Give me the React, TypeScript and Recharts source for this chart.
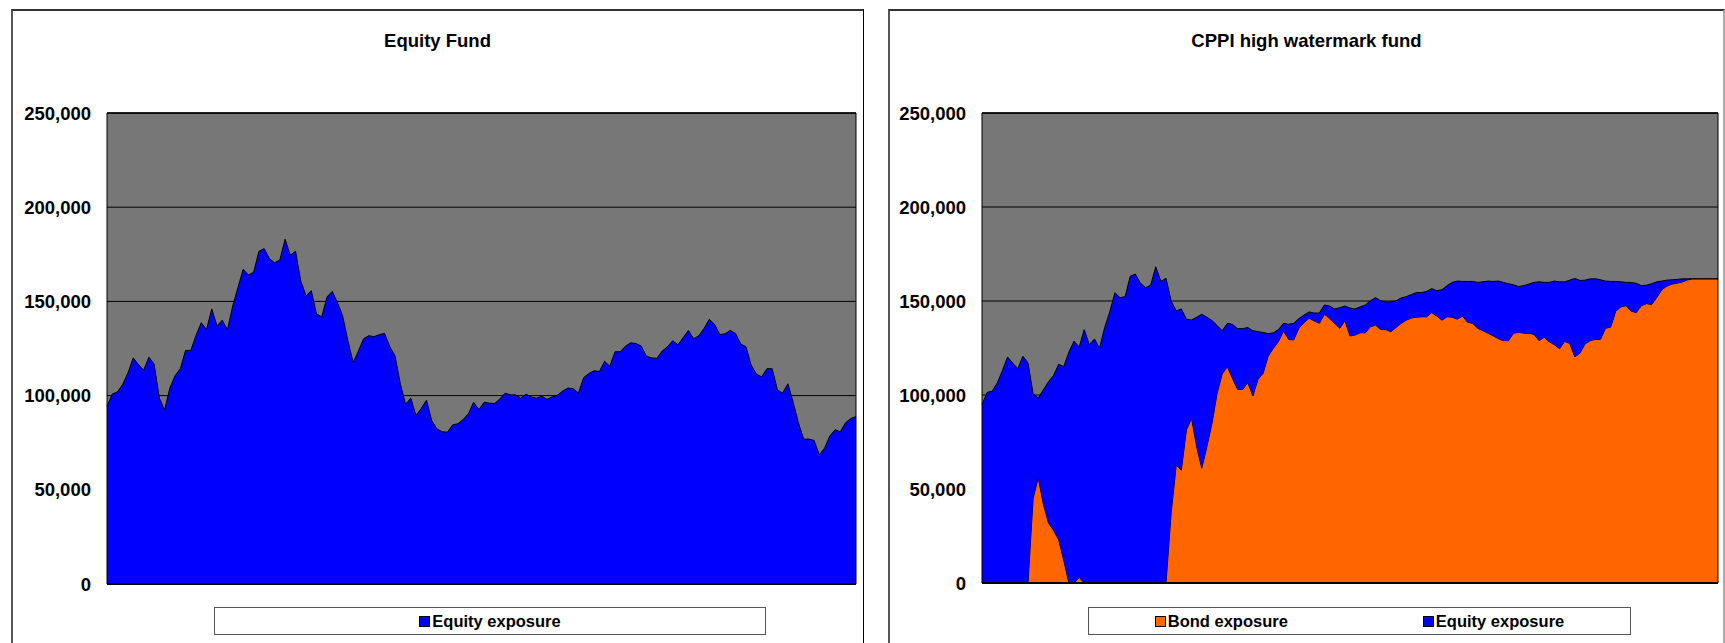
import { AreaChart, Area, XAxis, YAxis, CartesianGrid, ReferenceLine } from "recharts"

// values in thousands (one point per period)
const equityFundValue = [
  94.3, 100.8, 102, 106, 112, 120, 116.5, 113.5, 120.4, 116.7, 98.6, 92.5, 104, 110.6, 114.3, 124,
  124, 132, 138.7, 135, 146, 137, 140, 135, 147.6, 157.4, 167, 164, 165.5, 176.6, 178, 172.7, 170.5,
  172, 183, 174.6, 176.6, 160.7, 153, 155.7, 143.3, 141.8, 152.4, 155.3, 149.4, 142.2, 129, 117.6,
  123.7, 130.2, 131.8, 131.3, 132.4, 133, 125.9, 121, 106.3, 95.4, 98.6, 89.5, 93.2, 97.6, 86.7, 82.3,
  80.8, 80.6, 84.5, 85.1, 87.3, 90.4, 96.5, 92.5, 96.5, 96, 95.8, 98.2, 101.3, 100.4, 100.4, 98.6,
  100.8, 99.3, 98.6, 99.7, 98, 99.3, 100.2, 102.4, 104, 103.7, 101.3, 109.5, 111.7, 113.2, 112.8,
  118.2, 115.6, 123.3, 123.3, 126.3, 128, 127.6, 126.3, 120.9, 120, 119.8, 123.7, 125.9, 129.1, 127,
  130.7, 134.6, 130.2, 131.8, 135.7, 140.5, 137.8, 132.4, 132.8, 134.6, 133, 127.4, 125.9, 116.1,
  111.3, 110, 114.3, 114.3, 103, 101.3, 106.3, 96.5, 85.6, 76.9, 76.9, 76.2, 68.6, 72.1, 78.6, 81.9,
  80.8, 85.6, 87.8, 88.9,
]

// CPPI fund: total value and the part held in bonds
const cppiFundValue = [
  94.9, 101.4, 102, 106.5, 113, 120.2, 117, 114, 120.6, 117,
  100.6, 98.4, 102.7, 107.1, 110.4, 116.3, 115.2, 122.8, 128.7, 125.4,
  134.8, 126.7, 129.8, 125, 135.9, 144.2, 154.4, 151.8, 152.3, 163.2,
  164.3, 159.5, 157.1, 158.4, 168.2, 160.4, 162.1, 150.1, 144.7, 145.8,
  140.3, 139.9, 141.4, 142.9, 141.4, 139.6, 137, 134.2, 138.1, 137.6,
  135.3, 135.3, 135.9, 134.2, 133.7, 133.3, 132.6, 133.1, 134.8, 138.1,
  137.6, 138.1, 140.7, 142.5, 144.2, 143.6, 143.6, 147.9, 147.3, 145.8,
  146.4, 147.3, 146.2, 145.8, 146.9, 147.9, 150.1, 151.8, 150.1, 149.5,
  149.5, 150.1, 151.6, 152.3, 153.4, 154.5, 154.5, 155.1, 156.6, 155.5,
  156, 158.2, 159.9, 160.6, 160.4, 160.4, 160.4, 159.9, 160.2, 160.6,
  160.4, 160.6, 159.9, 159.2, 158.6, 157.7, 158.2, 159, 159.9, 160.2,
  159.9, 159.9, 160.6, 160.2, 160.2, 161.1, 162, 160.9, 161.1, 161.8,
  161.8, 161.3, 160.6, 160.4, 160.4, 160.2, 159.9, 159.9, 159.4, 158.2,
  158.4, 159.2, 160.2, 160.6, 161.1, 161.3, 161.5, 161.8, 161.8, 161.8,
  161.8, 161.8, 161.8, 161.8, 161.8,
]

const cppiBondExposure = [
  0, 0, 0, 0, 0, 0, 0, 0, 0, 0,
  45, 56, 42, 32, 28, 23, 12, 0, 0, 3,
  0, 0, 0, 0, 0, 0, 0, 0, 0, 0,
  0, 0, 0, 0, 0, 0, 0, 37, 62.8, 60.1,
  81.4, 87.6, 72.5, 61, 72.5, 85, 100.9, 111.2, 115, 108.9,
  103, 103, 106.5, 99.5, 108.3, 111.5, 120.7, 124.8, 128.4, 134,
  129.6, 129.3, 135.5, 138.5, 140.8, 139.4, 138.1, 142.9, 140.8, 138.1,
  135.5, 139.5, 131.4, 131.9, 133.1, 133.1, 136.3, 137.2, 134.8, 134.8,
  133.7, 135.9, 138.1, 139.8, 140.9, 141.4, 141.6, 141.6, 143.8, 142,
  139.8, 141.6, 141.4, 140.3, 142, 138.7, 138.1, 135.5, 134.2, 132.9,
  131.5, 130, 128.9, 128.9, 132.9, 133.3, 132.9, 132.9, 132.2, 128.9,
  130.7, 128.3, 126.7, 124.6, 128.5, 127.4, 120.2, 122.4, 127.2, 128.9,
  129.6, 129.6, 135.5, 136.1, 144.6, 146.8, 147.5, 144.6, 143.8, 147.5,
  148.6, 148.1, 151.8, 156, 157.9, 159, 159.5, 160.1, 161.2, 161.8,
  161.8, 161.8, 161.8, 161.8, 161.8,
]

const yTicks = [0, 50, 100, 150, 200, 250]

const BLUE = "#0000ff"
const ORANGE = "#ff6600"
const PLOT_BG = "#777777"
const FONT = "'Liberation Sans', Arial, sans-serif"

const equityData = equityFundValue.map((v, i) => ({ t: i, equity: v }))
const cppiData = cppiFundValue.map((v, i) => ({
  t: i,
  bond: cppiBondExposure[i],
  equity: Math.max(0, +(v - cppiBondExposure[i]).toFixed(1)),
}))

const fmt = (v: number) => (v * 1000).toLocaleString("en-US")

const tickStyle = { fill: "#000", fontSize: 18.5, fontWeight: 700, fontFamily: FONT }

function LegendBox({ items, left, width, gap }: any) {
  return (
    <div
      style={{
        position: "absolute",
        left,
        top: 607,
        width,
        height: 28,
        boxSizing: "border-box",
        border: "1px solid #555",
        background: "#fff",
        display: "flex",
        alignItems: "center",
        justifyContent: "center",
        gap,
        fontFamily: FONT,
        fontWeight: 700,
        fontSize: 16.5,
      }}
    >
      {items.map((it: any) => (
        <div key={it.name} style={{ display: "flex", alignItems: "center" }}>
          <span
            style={{
              display: "inline-block",
              width: 11,
              height: 11,
              boxSizing: "border-box",
              border: "1px solid #000",
              background: it.color,
              marginRight: 2,
            }}
          />
          <span>{it.name}</span>
        </div>
      ))}
    </div>
  )
}

function Title({ text, left, width }: any) {
  return (
    <div
      style={{
        position: "absolute",
        left,
        width,
        top: 31,
        lineHeight: "20px",
        textAlign: "center",
        fontFamily: FONT,
        fontWeight: 700,
        fontSize: 18.5,
      }}
    >
      {text}
    </div>
  )
}

// dark border round the plot area, drawn over the series
function plotFrame(n: number) {
  return [
    <ReferenceLine key="l" x={0} stroke="#000" strokeWidth={1} />,
    <ReferenceLine key="r" x={n - 1} stroke="#000" strokeWidth={1} />,
    <ReferenceLine key="t" y={250} stroke="#000" strokeWidth={1.5} />,
    <ReferenceLine key="b" y={0} stroke="#000" strokeWidth={2} />,
  ]
}

export default function App() {
  return (
    <div
      style={{
        position: "absolute",
        left: 0,
        top: 0,
        width: 1725,
        height: 643,
        overflow: "hidden",
        background: "#fff",
      }}
    >
      {/* panel borders */}
      <div
        style={{
          position: "absolute",
          left: 11,
          top: 9,
          width: 853,
          height: 700,
          boxSizing: "border-box",
          borderTop: "2px solid #333",
          borderLeft: "2px solid #555",
          borderRight: "1px solid #000",
        }}
      />
      <div
        style={{
          position: "absolute",
          left: 888,
          top: 9,
          width: 837,
          height: 700,
          boxSizing: "border-box",
          borderTop: "2px solid #333",
          borderLeft: "2px solid #555",
          borderRight: "2px solid #aaa",
        }}
      />

      <Title text="Equity Fund" left={11} width={853} />
      <Title text="CPPI high watermark fund" left={888} width={837} />

      <div style={{ position: "absolute", left: 0, top: 0 }}>
        <AreaChart
          width={870}
          height={643}
          data={equityData}
          margin={{ top: 113, right: 14, bottom: 59, left: 0 }}
        >
          <CartesianGrid horizontal vertical={false} fill={PLOT_BG} fillOpacity={1} stroke="#000" />
          <XAxis dataKey="t" type="number" domain={[0, equityData.length - 1]} hide />
          <YAxis
            domain={[0, 250]}
            ticks={yTicks}
            interval={0}
            width={107}
            tickLine={false}
            axisLine={false}
            tickSize={0}
            tickMargin={16}
            tickFormatter={fmt}
            tick={tickStyle}
          />
          <Area
            type="linear"
            dataKey="equity"
            name="Equity exposure"
            stroke="#000"
            strokeWidth={1}
            fill={BLUE}
            fillOpacity={1}
            dot={false}
            activeDot={false}
            isAnimationActive={false}
          />
          {plotFrame(equityData.length)}
        </AreaChart>
      </div>

      <div style={{ position: "absolute", left: 870, top: 0 }}>
        <AreaChart
          width={855}
          height={643}
          data={cppiData}
          margin={{ top: 113, right: 7, bottom: 60, left: 0 }}
        >
          <CartesianGrid horizontal vertical={false} fill={PLOT_BG} fillOpacity={1} stroke="#000" />
          <XAxis dataKey="t" type="number" domain={[0, cppiData.length - 1]} hide />
          <YAxis
            domain={[0, 250]}
            ticks={yTicks}
            interval={0}
            width={112}
            tickLine={false}
            axisLine={false}
            tickSize={0}
            tickMargin={16}
            tickFormatter={fmt}
            tick={tickStyle}
          />
          <Area
            type="linear"
            dataKey="bond"
            name="Bond exposure"
            stackId="cppi"
            stroke="#000"
            strokeWidth={1}
            fill={ORANGE}
            fillOpacity={1}
            dot={false}
            activeDot={false}
            isAnimationActive={false}
          />
          <Area
            type="linear"
            dataKey="equity"
            name="Equity exposure"
            stackId="cppi"
            stroke="#000"
            strokeWidth={1}
            fill={BLUE}
            fillOpacity={1}
            dot={false}
            activeDot={false}
            isAnimationActive={false}
          />
          {plotFrame(cppiData.length)}
        </AreaChart>
      </div>

      <LegendBox items={[{ name: "Equity exposure", color: BLUE }]} left={214} width={552} gap={0} />
      <LegendBox
        items={[
          { name: "Bond exposure", color: ORANGE },
          { name: "Equity exposure", color: BLUE },
        ]}
        left={1088}
        width={543}
        gap={135}
      />
    </div>
  )
}
